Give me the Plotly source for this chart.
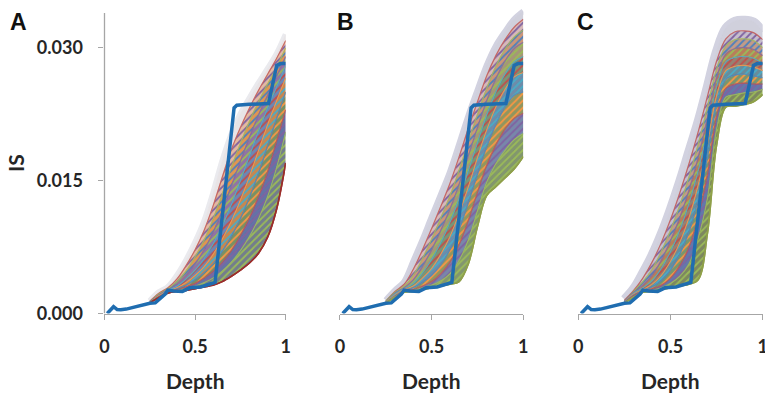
import plotly.graph_objects as go

# ---------------- data ----------------
GRID_X = [0.25, 0.30, 0.35, 0.40, 0.45, 0.50, 0.55, 0.60, 0.65, 0.70,
          0.75, 0.80, 0.85, 0.90, 0.95, 1.00]

# simulated IS curves (units of 1e-3), ordered top -> bottom
A_CURVES_MILLI = [
    [1.4, 2.4, 3.0, 4.3, 6.0, 8.0, 10.4, 13.6, 17.2, 20.2, 22.5, 24.3, 26.0, 27.6, 29.3, 31.5],
    [1.4, 2.3, 2.9, 3.9, 5.4, 7.2, 9.4, 12.2, 15.4, 18.5, 21.0, 23.2, 25.2, 27.0, 28.8, 30.8],
    [1.3, 2.2, 2.8, 3.6, 4.8, 6.4, 8.3, 10.7, 13.5, 16.5, 19.2, 21.7, 23.9, 25.9, 27.8, 30.0],
    [1.3, 2.1, 2.7, 3.3, 4.3, 5.6, 7.2, 9.2, 11.6, 14.4, 17.2, 19.9, 22.4, 24.6, 26.8, 29.0],
    [1.3, 2.0, 2.6, 3.1, 3.9, 4.9, 6.2, 7.9, 9.9, 12.3, 15.0, 17.8, 20.6, 23.2, 25.6, 28.0],
    [1.2, 2.0, 2.5, 2.9, 3.5, 4.3, 5.3, 6.7, 8.4, 10.4, 12.8, 15.5, 18.4, 21.3, 24.0, 26.6],
    [1.2, 1.9, 2.4, 2.8, 3.2, 3.8, 4.6, 5.6, 7.0, 8.7, 10.7, 13.1, 15.8, 18.9, 22.0, 25.0],
    [1.2, 1.9, 2.4, 2.7, 3.0, 3.4, 4.0, 4.8, 5.8, 7.1, 8.8, 10.8, 13.2, 16.0, 19.5, 23.0],
    [1.2, 1.8, 2.3, 2.6, 2.8, 3.1, 3.5, 4.0, 4.8, 5.8, 7.1, 8.7, 10.7, 13.2, 16.5, 20.5],
    [1.2, 1.8, 2.3, 2.5, 2.6, 2.8, 3.0, 3.2, 3.6, 4.2, 4.9, 5.7, 6.8, 8.6, 11.8, 17.0],
]
B_CURVES_MILLI = [
    [1.5, 2.6, 3.6, 5.9, 8.3, 10.9, 13.4, 16.0, 19.1, 22.3, 25.2, 28.0, 30.2, 31.8, 33.2, 34.1],
    [1.4, 2.5, 3.3, 5.0, 7.2, 9.6, 12.1, 14.7, 17.7, 20.9, 23.9, 26.8, 29.1, 30.9, 32.3, 33.2],
    [1.4, 2.4, 3.1, 4.3, 6.2, 8.4, 10.8, 13.3, 16.2, 19.4, 22.5, 25.4, 27.9, 29.8, 31.2, 32.0],
    [1.3, 2.3, 2.9, 3.8, 5.3, 7.2, 9.4, 11.8, 14.6, 17.8, 21.0, 24.0, 26.5, 28.5, 29.9, 30.6],
    [1.3, 2.2, 2.8, 3.4, 4.6, 6.1, 8.0, 10.3, 13.0, 16.1, 19.3, 22.4, 25.0, 27.0, 28.4, 29.0],
    [1.3, 2.1, 2.7, 3.1, 4.0, 5.1, 6.7, 8.7, 11.3, 14.3, 17.6, 20.7, 23.3, 25.3, 26.7, 27.2],
    [1.2, 2.0, 2.6, 2.9, 3.5, 4.3, 5.5, 7.2, 9.5, 12.5, 15.7, 18.8, 21.3, 23.3, 24.6, 25.0],
    [1.2, 1.9, 2.5, 2.7, 3.1, 3.6, 4.5, 5.8, 7.8, 10.5, 13.7, 16.7, 19.0, 20.8, 22.0, 22.6],
    [1.2, 1.9, 2.4, 2.6, 2.9, 3.2, 3.7, 4.5, 6.0, 8.3, 11.6, 14.8, 16.9, 18.4, 19.6, 20.3],
    [1.2, 1.8, 2.4, 2.5, 2.7, 2.9, 3.1, 3.3, 3.6, 5.6, 9.8, 13.3, 14.3, 15.3, 16.3, 17.7],
]
C_CURVES_MILLI = [
    [1.6, 2.8, 4.6, 6.6, 9.0, 11.8, 14.9, 18.3, 21.7, 25.6, 29.6, 32.2, 33.0, 33.1, 32.9, 31.8],
    [1.5, 2.6, 4.0, 5.8, 8.0, 10.6, 13.6, 16.9, 20.5, 24.5, 28.5, 31.0, 31.8, 31.9, 31.7, 30.9],
    [1.4, 2.5, 3.6, 5.0, 7.0, 9.4, 12.2, 15.4, 19.1, 23.3, 27.6, 30.2, 30.9, 31.0, 30.8, 30.0],
    [1.4, 2.4, 3.2, 4.3, 6.0, 8.2, 10.8, 13.9, 17.6, 22.0, 26.6, 29.3, 29.9, 30.0, 29.8, 29.1],
    [1.3, 2.3, 2.9, 3.7, 5.1, 7.0, 9.4, 12.4, 16.1, 20.6, 25.6, 28.4, 28.9, 29.0, 28.8, 28.2],
    [1.3, 2.2, 2.7, 3.3, 4.3, 5.9, 8.0, 10.8, 14.5, 19.2, 24.6, 27.4, 27.9, 28.0, 27.8, 27.4],
    [1.3, 2.1, 2.6, 3.0, 3.7, 4.9, 6.7, 9.2, 12.8, 17.6, 23.5, 26.4, 26.9, 27.0, 26.8, 26.6],
    [1.2, 2.0, 2.5, 2.8, 3.2, 4.0, 5.4, 7.5, 10.9, 15.7, 22.3, 25.4, 25.9, 26.0, 25.9, 25.9],
    [1.2, 1.9, 2.4, 2.6, 2.9, 3.4, 4.2, 5.6, 8.5, 13.0, 20.8, 24.4, 24.7, 24.9, 25.0, 25.3],
    [1.2, 1.8, 2.4, 2.5, 2.7, 2.9, 3.1, 3.3, 3.8, 9.0, 19.0, 23.3, 23.4, 23.6, 23.9, 24.7],
]

# observed IS curve (same in all panels), units of 1e-3
OBS_X = [0.015, 0.035, 0.05, 0.07, 0.09, 0.12, 0.16, 0.20, 0.25, 0.28, 0.30,
         0.32, 0.335, 0.35, 0.38, 0.43, 0.47, 0.53, 0.57, 0.61, 0.715, 0.73,
         0.80, 0.905, 0.95, 0.97, 1.0]
OBS_Y_MILLI = [0.0, 0.5, 0.77, 0.45, 0.42, 0.5, 0.7, 1.0, 1.15, 1.2, 1.6,
               2.0, 2.2, 2.65, 2.55, 2.5, 2.9, 3.0, 3.2, 3.5, 23.2, 23.5,
               23.6, 23.7, 28.0, 28.2, 28.2]

PANEL_LETTERS = ["A", "B", "C"]
X_TICKS = [0, 0.5, 1]
X_TICK_TEXT = ["0", "0.5", "1"]
Y_TICKS = [0.0, 0.015, 0.030]
Y_TICK_TEXT = ["0.000", "0.015", "0.030"]

# ---------------- style ----------------
LINE_COLORS = ["#4F81BD", "#C0504D", "#9BBB59", "#8064A2", "#4BACC6", "#F79646"]
BAND_COLORS = {
    "A": ["rgb(232,228,230)", "rgb(228,185,160)", "rgb(225,150,80)", "rgb(145,115,165)",
          "rgb(110,135,180)", "rgb(200,135,80)", "rgb(120,145,100)", "rgb(100,115,165)",
          "rgb(115,125,140)"],
    "B": ["rgb(208,208,220)", "rgb(215,185,185)", "rgb(205,150,120)", "rgb(165,150,120)",
          "rgb(120,150,120)", "rgb(110,140,170)", "rgb(145,150,95)", "rgb(120,135,170)",
          "rgb(130,150,110)"],
    "C": ["rgb(208,208,220)", "rgb(198,190,205)", "rgb(195,155,135)", "rgb(185,125,90)",
          "rgb(150,130,115)", "rgb(105,140,155)", "rgb(120,150,110)", "rgb(100,120,170)",
          "rgb(125,135,95)"],
}
PATTERN_FG = ["#F79646", "#8064A2", "#4F81BD", "#9BBB59", "#C0504D", "#4BACC6",
              "#F79646", "#8064A2", "#9BBB59"]
HALO = {"A": "rgb(234,234,238)", "B": "rgb(210,210,224)", "C": "rgb(210,210,224)"}
HALO_WIDTH = {"A": 6, "B": 6, "C": 9}
LOWER_EDGE = {"A": "#9B2D2A", "B": "#8FA04A", "C": "#8FA04A"}
OBS_COLOR = "#1F6DB0"
AXIS_COLOR = "#A6A6A6"
FONT = "Lato"

X_DOMAINS = [[0.1366, 0.3735], [0.4444, 0.6841], [0.7560, 0.9970]]
Y_DOMAIN = [0.2063, 0.9803]
Y_RANGE = [0, 0.0345]

fig = go.Figure()
curves_by_panel = {"A": A_CURVES_MILLI, "B": B_CURVES_MILLI, "C": C_CURVES_MILLI}

for i, letter in enumerate(PANEL_LETTERS):
    xa = "x" if i == 0 else f"x{i+1}"
    ya = "y" if i == 0 else f"y{i+1}"
    curves = [[v / 1000 for v in c] for c in curves_by_panel[letter]]
    fig.add_trace(go.Scatter(x=GRID_X, y=curves[0], mode="lines", xaxis=xa, yaxis=ya,
                             line=dict(color=HALO[letter], width=HALO_WIDTH[letter], shape="spline"),
                             hoverinfo="skip", showlegend=False))
    n = len(curves)
    fig.add_trace(go.Scatter(x=GRID_X, y=curves[n - 1], mode="lines", xaxis=xa, yaxis=ya,
                             line=dict(color=LOWER_EDGE[letter], width=1.5, shape="spline"),
                             hoverinfo="skip", showlegend=False))
    for k in range(n - 2, -1, -1):
        pattern = None
        if k > 0:
            pattern = dict(shape="/", bgcolor=BAND_COLORS[letter][k], fgcolor=PATTERN_FG[k],
                           size=5, solidity=0.35, fillmode="replace")
        fig.add_trace(go.Scatter(x=GRID_X, y=curves[k], mode="lines", xaxis=xa, yaxis=ya,
                                 fill="tonexty", fillcolor=BAND_COLORS[letter][k],
                                 fillpattern=pattern,
                                 line=dict(color=BAND_COLORS[letter][k], width=0.5, shape="spline"),
                                 hoverinfo="skip", showlegend=False))
    for k in range(1, n - 1):
        fig.add_trace(go.Scatter(x=GRID_X, y=curves[k], mode="lines", xaxis=xa, yaxis=ya,
                                 line=dict(color=LINE_COLORS[k % len(LINE_COLORS)], width=1.2,
                                           shape="spline"),
                                 opacity=0.8, hoverinfo="skip", showlegend=False))
    fig.add_trace(go.Scatter(x=GRID_X, y=curves[n - 1], mode="lines", xaxis=xa, yaxis=ya,
                             line=dict(color=LOWER_EDGE[letter], width=1.6, shape="spline"),
                             hoverinfo="skip", showlegend=False))
    fig.add_trace(go.Scatter(x=OBS_X, y=[v / 1000 for v in OBS_Y_MILLI], mode="lines",
                             xaxis=xa, yaxis=ya, line=dict(color=OBS_COLOR, width=3.5),
                             hoverinfo="skip", showlegend=False))

tick_font = dict(family=FONT, size=18, color="#262626", weight="bold")
layout_axes = {}
for i in range(3):
    sx = "xaxis" if i == 0 else f"xaxis{i+1}"
    sy = "yaxis" if i == 0 else f"yaxis{i+1}"
    layout_axes[sx] = dict(domain=X_DOMAINS[i], range=[0, 1], anchor="y" if i == 0 else f"y{i+1}",
                           automargin=False, showgrid=False, zeroline=False, showline=True,
                           linecolor=AXIS_COLOR, linewidth=1.3, ticks="outside", ticklen=5,
                           tickcolor=AXIS_COLOR, tickvals=X_TICKS, ticktext=X_TICK_TEXT,
                           tickfont=tick_font, ticklabelstandoff=12, ticklabeloverflow="allow",
                           fixedrange=True)
    layout_axes[sy] = dict(domain=Y_DOMAIN, range=Y_RANGE, anchor="x" if i == 0 else f"x{i+1}",
                           automargin=False, showgrid=False, zeroline=False, fixedrange=True,
                           showline=False, showticklabels=(i == 0),
                           ticks="outside" if i == 0 else "", ticklen=5, tickcolor=AXIS_COLOR,
                           tickvals=Y_TICKS, ticktext=Y_TICK_TEXT, tickfont=tick_font,
                           ticklabelstandoff=12)

fig.update_layout(width=765, height=395, margin=dict(l=0, r=0, t=0, b=0, autoexpand=False),
                  paper_bgcolor="white", plot_bgcolor="white", showlegend=False,
                  **layout_axes)

fig.add_shape(type="line", xref="x domain", yref="y", x0=0, x1=0, y0=0, y1=0.0339,
              line=dict(color=AXIS_COLOR, width=1.3))

annotations = []
for i, letter in enumerate(PANEL_LETTERS):
    dom = X_DOMAINS[i]
    annotations.append(dict(text="Depth", xref="paper", yref="paper",
                            x=(dom[0] + dom[1]) / 2, y=1 - 380 / 395, showarrow=False,
                            xanchor="center", yanchor="middle",
                            font=dict(family=FONT, size=21, color="#262626", weight="bold")))
letter_x = [18, 345, 585]
for i, letter in enumerate(PANEL_LETTERS):
    annotations.append(dict(text=letter, xref="paper", yref="paper", x=letter_x[i] / 765,
                            y=1 - 22 / 395, showarrow=False, xanchor="center", yanchor="middle",
                            font=dict(family="Liberation Sans", size=23, color="#111111",
                                      weight="bold")))
annotations.append(dict(text="IS", xref="paper", yref="paper", x=15 / 765, y=1 - 163 / 395,
                        showarrow=False, textangle=-90, xanchor="center", yanchor="middle",
                        font=dict(family=FONT, size=21, color="#262626", weight="bold")))
fig.update_layout(annotations=annotations)

fig.write_html("out.html", config={"displayModeBar": False},
               post_script="document.body.style.margin='0px';"
                           "document.documentElement.style.overflow='hidden';")
